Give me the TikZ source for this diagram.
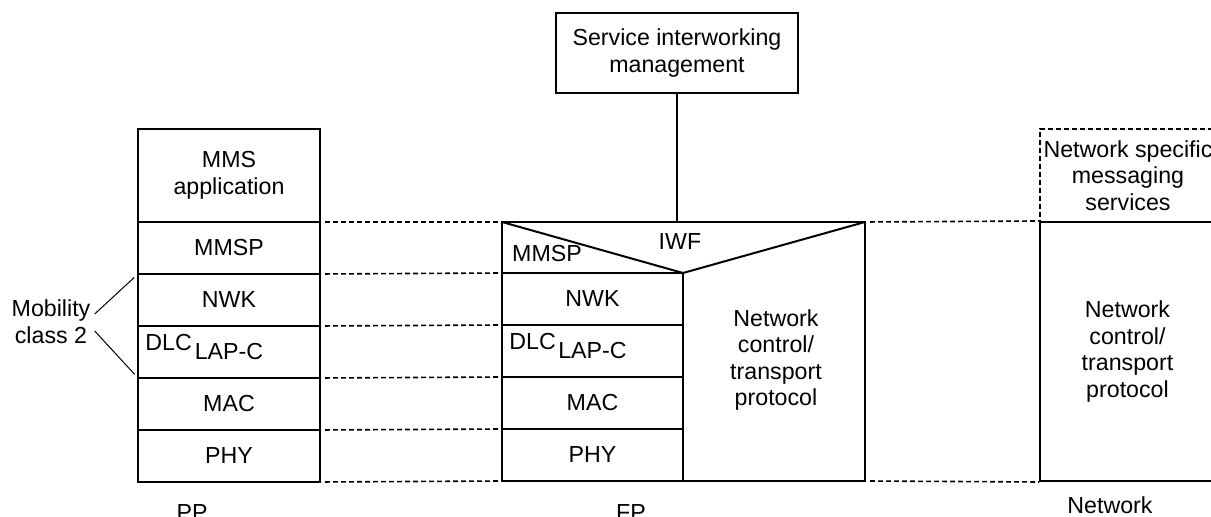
\documentclass[tikz,border=0pt]{standalone}
\usepackage{fontspec}
\setmainfont{Liberation Sans}
\usetikzlibrary{positioning}
\tikzset{
  layer/.style={draw,line width=1pt,inner sep=0pt,outer sep=0pt,minimum width=91pt,minimum height=26pt},
  tag/.style={inner sep=0pt,anchor=north west},
  levelline/.style={line width=0.8pt,dash pattern=on 2.5pt off 1.5pt,shorten <=2.5pt},
  plain/.style={inner sep=0pt,align=center},
}

\begin{document}
\begin{tikzpicture}[x=0.5pt,y=-0.5pt,font=\fontsize{11.6}{13.3}\selectfont]
\useasboundingbox (0,0) rectangle (1211,517);

% PP stack
\node[layer,minimum height=46.5pt,align=center] (ppapp) at (229,175.5) {MMS\\application};
\node[layer,below=0pt of ppapp] (ppmmsp) {MMSP};
\node[layer,below=0pt of ppmmsp] (ppnwk) {NWK};
\node[layer,below=0pt of ppnwk] (ppdlc) {LAP-C};
\node[layer,below=0pt of ppdlc] (ppmac) {MAC};
\node[layer,below=0pt of ppmac] (ppphy) {PHY};
\node[tag] (ppdlctag) at ([xshift=3.5pt,yshift=-4pt]ppdlc.north west) {DLC};

% mobility class
\node[plain] (mob) at (51,322) {Mobility\\class 2};
\draw[line width=0.5pt,shorten >=2.5pt] ([xshift=2pt,yshift=4pt]mob.east) -- (ppnwk.north west);
\draw[line width=0.5pt,shorten >=2.5pt] ([xshift=2pt,yshift=-4.5pt]mob.east) -- (ppdlc.south west);

% FP stack
\node[layer,minimum width=90.5pt] (fpnwk) at (592.5,299) {NWK};
\node[layer,minimum width=90.5pt,below=0pt of fpnwk] (fpdlc) {LAP-C};
\node[layer,minimum width=90.5pt,below=0pt of fpdlc] (fpmac) {MAC};
\node[layer,minimum width=90.5pt,below=0pt of fpmac] (fpphy) {PHY};
\node[tag] (fpdlctag) at ([xshift=3.5pt,yshift=-4pt]fpdlc.north west) {DLC};
\coordinate (fptl) at (502,222);
\coordinate (fptr) at (865,222);
\coordinate (fpiwf) at (677,222);
\draw[line width=1pt,line join=miter]
  (fpnwk.north west) -- (fptl) -- (fptr) -- (fptr |- fpphy.south) -- (fpphy.south east) -- (fpnwk.north east);
\draw[line width=1pt] (fptl) -- (fpnwk.north east) -- (fptr);
\node[plain] (fpmmsp) at (547,254) {MMSP};
\node[plain] (iwf) at (680,242) {IWF};
\node[plain] (fpnet) at (776,360) {Network\\control/\\transport\\protocol};

% service interworking
\node[draw,line width=1pt,minimum width=121pt,minimum height=40pt,align=center] (serv) at (677,53)
  {Service interworking\\management};
\draw[line width=1pt] (serv.south) -- (fpiwf);

% network side
\node[draw,line width=0.8pt,dash pattern=on 2.5pt off 1.5pt,minimum width=88pt,minimum height=46.5pt,
  inner sep=0pt,align=center] (netmsg) at (1128,175.5) {Network specific\\messaging\\services};
\node[draw,line width=1pt,fill=white,minimum width=87.5pt,minimum height=129.5pt,
  inner sep=0pt,align=center] (net) at (1127.5,351.5) {Network\\control/\\transport\\protocol};

% peer levels
\foreach \a/\b in {ppapp.south east/fptl, ppmmsp.south east/fpnwk.north west,
  ppnwk.south east/fpnwk.south west, ppdlc.south east/fpdlc.south west,
  ppmac.south east/fpmac.south west, ppphy.south east/fpphy.south west,
  fptr/net.north west}
{
  \draw[levelline] (\a) -- (\b);
}
\coordinate (fpbr) at (fptr |- fpphy.south);
\draw[levelline] (fpbr) -- (net.south west);

% captions
\node[plain] (pp) at (192,513) {PP};
\node[plain] (fp) at (631,513) {FP};
\node[plain] (netcap) at (1110,505) {Network};
\end{tikzpicture}
\end{document}
